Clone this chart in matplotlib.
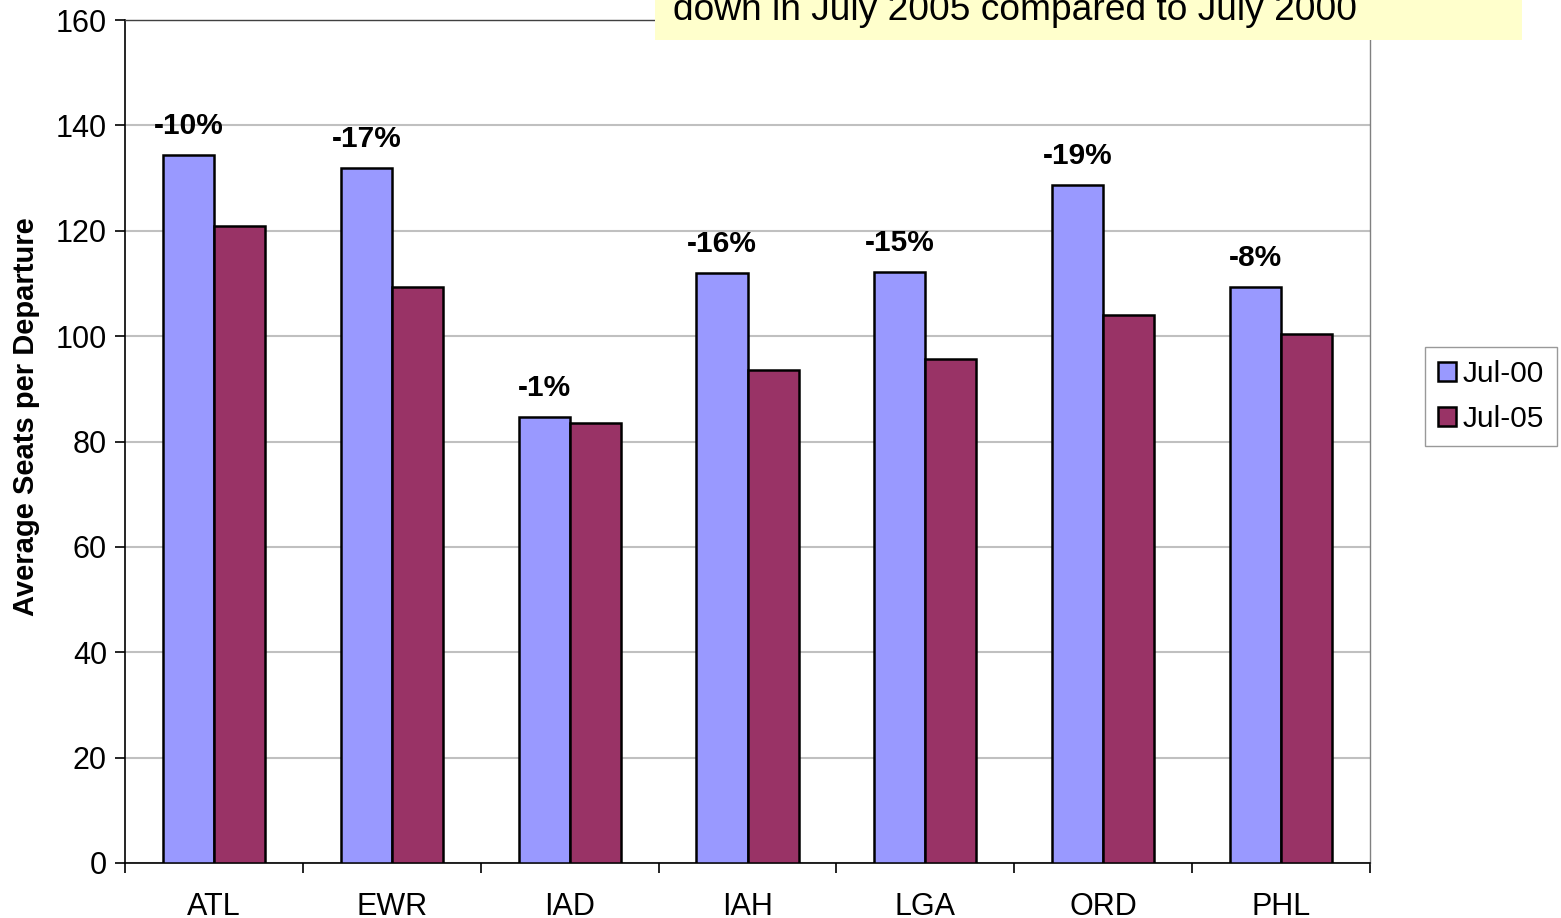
import numpy as np
import matplotlib
matplotlib.use("Agg")
import matplotlib.pyplot as plt
from matplotlib.patches import Rectangle

plt.rcParams['font.family'] = ['Liberation Sans', 'DejaVu Sans']

# Data
airports = ['ATL', 'EWR', 'IAD', 'IAH', 'LGA', 'ORD', 'PHL']
jul00 = [134.4, 131.9, 84.6, 112.0, 112.2, 128.7, 109.3]
jul05 = [120.9, 109.3, 83.5, 93.6, 95.7, 104.0, 100.4]
pct_labels = ['-10%', '-17%', '-1%', '-16%', '-15%', '-19%', '-8%']
note_text = 'down in July 2005 compared to July 2000'

fig = plt.figure(figsize=(15.61, 9.18), dpi=100)
ax = fig.add_axes([125 / 1561, 55 / 918, 1245 / 1561, 843 / 918])

x = np.arange(len(airports))
w = 0.287
b1 = ax.bar(x - w / 2, jul00, w, color='#9999FF', edgecolor='black',
            linewidth=1.8, label='Jul-00', zorder=3)
b2 = ax.bar(x + w / 2, jul05, w, color='#993366', edgecolor='black',
            linewidth=1.8, label='Jul-05', zorder=3)

# percent change labels over the Jul-00 bars
for xi, yi, lab in zip(x - w / 2, jul00, pct_labels):
    ax.annotate(lab, (xi, yi), xytext=(0, 21), textcoords='offset points',
                ha='center', va='center', fontsize=21.5, fontweight='bold')

ax.set_xlim(-0.5, len(airports) - 0.5)
ax.set_ylim(0, 160)
ax.set_yticks(np.arange(0, 161, 20))
ax.set_xticks(np.arange(-0.5, len(airports), 1.0))
ax.set_xticklabels([])
ax.set_xticks(x, minor=True)
ax.set_xticklabels(airports, minor=True)
ax.tick_params(axis='x', which='minor', length=0, labelsize=22, pad=21)
ax.tick_params(axis='x', which='major', length=7, width=1.2, direction='out')
ax.tick_params(axis='y', length=7, width=1.2, direction='out', labelsize=22, pad=6)

ax.grid(axis='y', color='#C0C0C0', linewidth=1.5, zorder=0)
for s in ['left', 'bottom']:
    ax.spines[s].set_linewidth(1.2)
    ax.spines[s].set_color('black')
ax.spines['top'].set_color('#404040')
ax.spines['top'].set_linewidth(1.0)
ax.spines['right'].set_color('#808080')
ax.spines['right'].set_linewidth(1.0)

ax.set_ylabel('Average Seats per Departure', fontsize=21, fontweight='bold')
ax.yaxis.set_label_coords(-0.068, 0.53)

leg = fig.legend(handles=[b1, b2], loc='upper left',
                 bbox_to_anchor=(1425 / 1561, 1 - 347 / 918),
                 fontsize=21.5, frameon=True, fancybox=False, edgecolor='#808080',
                 handlelength=0.6, handleheight=0.6, handletextpad=0.2,
                 borderpad=0.45, labelspacing=0.55, borderaxespad=0)
leg.get_frame().set_linewidth(1.0)

# yellow note box, cut off at the top of the figure
fig.patches.append(Rectangle((655 / 1561, 1 - 40 / 918), 867 / 1561, 60 / 918,
                             transform=fig.transFigure, facecolor='#FFFFCC',
                             edgecolor='none', zorder=5))
fig.text(673 / 1561, 1 - 10 / 918, note_text, fontsize=26.7, ha='left',
         va='center', zorder=6)

fig.savefig('out.png', dpi=100)
